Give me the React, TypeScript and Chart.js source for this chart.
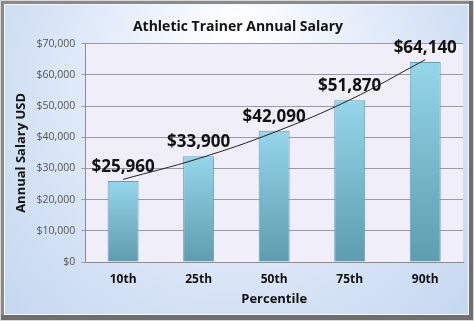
import React, { useEffect, useRef } from "react";
import { Chart, registerables } from "chart.js";

Chart.register(...registerables);

const categories = ["10th", "25th", "50th", "75th", "90th"];
const salaries = [25960, 33900, 42090, 51870, 64140];
const trendValues = [26500, 33200, 41600, 52000, 64900];
const yTicks = [0, 10000, 20000, 30000, 40000, 50000, 60000, 70000];

const FONT = "'Open Sans', 'Noto Sans', sans-serif";

const fmt = (v: number) => "$" + v.toLocaleString("en-US");

const framePlugin = {
  id: "frame",
  beforeDraw(chart: any) {
    const { ctx, width, height, chartArea } = chart;
    ctx.save();
    ctx.fillStyle = "#d8d8d8";
    ctx.fillRect(0, 0, width, height);
    ctx.fillStyle = "#8a8a8a";
    ctx.fillRect(1, 1, width - 2, height - 2);
    ctx.fillStyle = "#6e6e6e";
    ctx.fillRect(width - 5, 1, 4, height - 2);
    ctx.fillRect(1, height - 6, width - 2, 5);
    const ix = 4, iy = 4, iw = width - 9, ih = height - 10;
    const g = ctx.createRadialGradient(width * 0.5, height * 0.1, 10, width * 0.5, height * 0.4, width * 0.7);
    g.addColorStop(0, "#ffffff");
    g.addColorStop(0.45, "#e0eaf9");
    g.addColorStop(1, "#bfd3ef");
    ctx.fillStyle = g;
    ctx.fillRect(ix, iy, iw, ih);
    ctx.strokeStyle = "#f4f7fc";
    ctx.lineWidth = 1;
    ctx.strokeRect(ix + 0.5, iy + 0.5, iw - 1, ih - 1);
    ctx.fillStyle = "#efeef9";
    ctx.fillRect(chartArea.left, chartArea.top, chartArea.right - chartArea.left, chartArea.bottom - chartArea.top);
    ctx.restore();
  },
};

const labelPlugin = {
  id: "valueLabels",
  afterDatasetsDraw(chart: any) {
    const { ctx } = chart;
    const meta = chart.getDatasetMeta(0);
    ctx.save();
    ctx.font = `bold 17px ${FONT}`;
    ctx.fillStyle = "#111111";
    ctx.textAlign = "center";
    ctx.textBaseline = "middle";
    meta.data.forEach((bar: any, i: number) => {
      ctx.fillText(fmt(salaries[i]), bar.x, bar.y - 14);
    });
    ctx.restore();
  },
};

export default function App() {
  const ref = useRef<HTMLCanvasElement>(null);
  useEffect(() => {
    document.body.style.margin = "0";
    const canvas = ref.current!;
    const chart = new Chart(canvas, {
      type: "bar",
      data: {
        labels: categories,
        datasets: [
          {
            type: "bar",
            data: salaries,
            order: 2,
            barPercentage: 0.5,
            categoryPercentage: 0.82,
            borderColor: "#6a9fb0",
            borderWidth: 1,
            backgroundColor: (c: any) => {
              const chart = c.chart;
              const area = chart.chartArea;
              if (!area || c.dataIndex === undefined) return "#7cc0d3";
              const ys = chart.scales.y;
              const top = ys.getPixelForValue(salaries[c.dataIndex]);
              const g = chart.ctx.createLinearGradient(0, top, 0, area.bottom);
              g.addColorStop(0, "#96d6ea");
              g.addColorStop(1, "#5e9caf");
              return g;
            },
          } as any,
          {
            type: "line",
            data: trendValues,
            order: 1,
            borderColor: "#222222",
            borderWidth: 1,
            pointRadius: 0,
            tension: 0.4,
            fill: false,
          } as any,
        ],
      },
      options: {
        animation: false,
        responsive: false,
        layout: { padding: { left: 13, right: 11, top: 8, bottom: 14 } },
        plugins: {
          legend: { display: false },
          tooltip: { enabled: false },
          title: {
            display: true,
            text: "Athletic Trainer Annual Salary",
            color: "#111111",
            font: { family: FONT, size: 14, weight: "bold" },
            padding: { top: 11, bottom: 8 },
          },
        },
        scales: {
          x: {
            grid: { display: false, drawTicks: false },
            border: { color: "#8c8c8c" },
            ticks: { color: "#111111", font: { family: FONT, size: 12, weight: "bold" }, padding: 10 },
            title: {
              display: true,
              text: "Percentile",
              color: "#111111",
              font: { family: FONT, size: 13, weight: "bold" },
              padding: { top: -5, bottom: 0 },
            },
          },
          y: {
            min: 0,
            max: 70000,
            afterBuildTicks: (axis: any) => {
              axis.ticks = yTicks.map((v) => ({ value: v }));
            },
            grid: { color: "#9a9aa8", tickLength: 4 },
            border: { color: "#8c8c8c" },
            ticks: {
              color: "#555555",
              font: { family: FONT, size: 10.5 },
              padding: 6,
              callback: (v: any) => fmt(Number(v)),
            },
            title: {
              display: true,
              text: "Annual Salary USD",
              color: "#111111",
              font: { family: FONT, size: 13, weight: "bold" },
              padding: { top: 0, bottom: 2 },
            },
          },
        },
      },
      plugins: [framePlugin, labelPlugin],
    });
    return () => chart.destroy();
  }, []);
  return <canvas ref={ref} width={474} height={321} style={{ display: "block" }} />;
}
